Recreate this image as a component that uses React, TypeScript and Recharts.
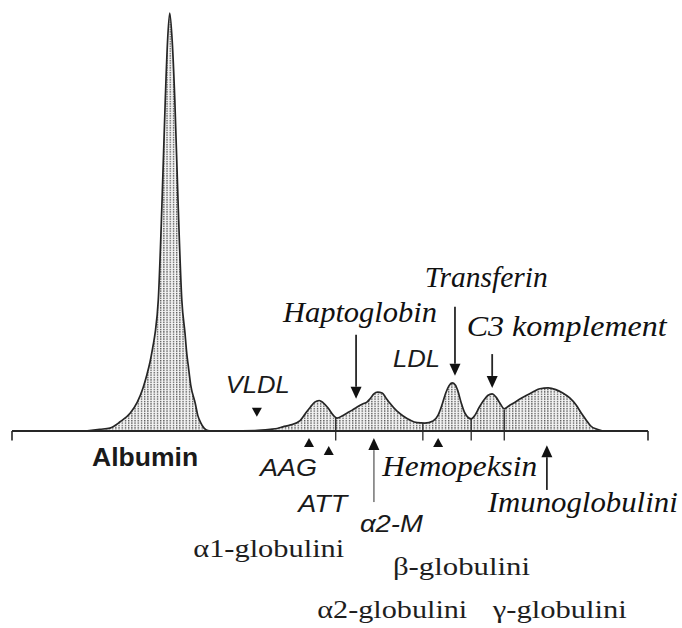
import React from "react";
import { ComposedChart, Area, XAxis, YAxis, ReferenceLine, ReferenceDot } from "recharts";

// densitogram: x = mobility (0..100 along the strip), y = relative density (albumin peak = 100)
const MOBILITY = [
  11.5, 13.8, 15.4, 17.0, 18.6, 19.7, 20.6, 21.2, 21.7, 22.2, 22.5, 23.0, 23.6, 24.1, 24.45, 24.8,
  25.2, 25.6, 26.1, 26.7, 27.2, 27.5, 27.7, 28.1, 28.8, 29.2, 29.7, 30.2, 30.8, 31.4, 34.3, 38.2,
  40.6, 41.7, 42.6, 43.7, 45.3, 46.1, 46.9, 47.6, 48.3, 48.9, 49.7, 50.5, 51.1, 51.9, 52.7, 53.5,
  54.2, 55.2, 55.8, 56.3, 56.9, 57.5, 58.2, 58.8, 59.4, 60.5, 61.5, 62.6, 63.7, 64.9, 66.2, 67.0,
  67.6, 68.2, 68.7, 69.2, 69.7, 70.1, 70.6, 71.2, 72.2, 72.8, 73.4, 74.2, 74.8, 75.5, 76.1, 76.7,
  77.4, 78.1, 79.1, 80.0, 81.0, 82.1, 83.0, 84.3, 85.5, 86.6, 87.7, 88.7, 89.5, 90.3, 91.0, 92.0,
  92.9
];
const DENSITY = [
  0, 0.4, 0.7, 2.2, 4.3, 6.9, 10.3, 13.4, 16.5, 20.6, 23.4, 31.3, 55.3, 79.2, 93, 100,
  93, 79.2, 55.3, 31.3, 23.4, 18.2, 15.8, 11.0, 6.7, 3.8, 1.9, 0.7, 0.1, 0, 0, 0.1,
  0.4, 0.6, 1.0, 1.4, 2.5, 4.1, 5.7, 6.9, 7.3, 6.8, 5.5, 3.8, 3.1, 3.6, 4.3, 5.0,
  5.7, 6.5, 6.9, 7.7, 8.9, 9.3, 9.1, 7.9, 6.7, 4.8, 3.6, 2.6, 2.0, 1.9, 2.4, 3.8,
  6.2, 9.1, 10.8, 11.5, 11.0, 9.6, 6.9, 4.3, 2.9, 3.8, 5.5, 7.4, 8.5, 8.9, 8.1, 6.7,
  5.3, 6.0, 6.9, 7.8, 8.6, 9.5, 10.1, 10.3, 9.9, 9.1, 7.9, 6.2, 4.3, 2.6, 1.2, 0.4,
  0
];

// vertical separators between fractions (x) and where they meet the curve (y)
const BOUNDARY_X = [50.9, 64.6, 72.2, 77.4];
const BOUNDARY_TOP = [3.1, 1.9, 2.9, 5.0];
const TICK_BOTTOM = -2.3;

type Kind = "serif" | "serifItalic" | "sansItalic" | "sansBold";
type Label = { text: string; x: number; y: number; kind: Kind };

const LABELS: Label[] = [
  { text: "Albumin", x: 12.6, y: -8.4, kind: "sansBold" },
  { text: "VLDL", x: 33.6, y: 9.1, kind: "sansItalic" },
  { text: "LDL", x: 59.9, y: 15.3, kind: "sansItalic" },
  { text: "AAG", x: 39.0, y: -10.8, kind: "sansItalic" },
  { text: "ATT", x: 45.0, y: -19.4, kind: "sansItalic" },
  { text: "\u03b12-M", x: 54.7, y: -24.2, kind: "sansItalic" },
  { text: "Haptoglobin", x: 42.6, y: 26.1, kind: "serifItalic" },
  { text: "Transferin", x: 64.9, y: 34.4, kind: "serifItalic" },
  { text: "C3 komplement", x: 71.5, y: 22.7, kind: "serifItalic" },
  { text: "Hemopeksin", x: 58.2, y: -10.8, kind: "serifItalic" },
  { text: "Imunoglobulini", x: 74.8, y: -19.4, kind: "serifItalic" },
  { text: "\u03b11-globulini", x: 28.5, y: -30.1, kind: "serif" },
  { text: "\u03b2-globulini", x: 59.9, y: -34.4, kind: "serif" },
  { text: "\u03b12-globulini", x: 48.0, y: -44.7, kind: "serif" },
  { text: "\u03b3-globulini", x: 75.6, y: -44.7, kind: "serif" }
];

// arrows: x, tail y, tip y
const ARROWS = [
  { name: "Haptoglobin", x: 54.1, from: 23.0, to: 7.7, grey: false },
  { name: "Transferin", x: 69.65, from: 29.7, to: 13.2, grey: false },
  { name: "C3", x: 75.5, from: 18.4, to: 10.3, grey: false },
  { name: "a2M", x: 56.9, from: -17.0, to: -1.7, grey: true },
  { name: "Ig", x: 84.1, from: -14.1, to: -3.4, grey: false }
];

// small triangles: x, tip y
const MARKERS = [
  { name: "VLDL", x: 38.5, tip: 3.4, down: true },
  { name: "AAG", x: 46.7, tip: -1.7, down: false },
  { name: "ATT", x: 49.8, tip: -3.6, down: false },
  { name: "Hemopeksin", x: 67.0, tip: -1.7, down: false }
];

const data = MOBILITY.map((x, i) => ({ x, y: DENSITY[i] }));

const SERIF = "Liberation Serif";
const SANS = "Liberation Sans";
type FontSpec = { family: string; size: number; italic?: boolean; bold?: boolean; fill: string };
const FONT: Record<Kind, FontSpec> = {
  serif: { family: SERIF, size: 26, fill: "#1e1e1e" },
  serifItalic: { family: SERIF, size: 29, italic: true, fill: "#111" },
  sansItalic: { family: SANS, size: 24, italic: true, fill: "#1a1a1a" },
  sansBold: { family: SANS, size: 26, bold: true, fill: "#1a1a1a" }
};
const LABEL_WIDTH: Record<string, number> = {
  Albumin: 106,
  VLDL: 64,
  LDL: 47,
  AAG: 57,
  ATT: 49,
  "\u03b12-M": 63,
  Haptoglobin: 154,
  Transferin: 123,
  "C3 komplement": 200,
  Hemopeksin: 155,
  Imunoglobulini: 190,
  "\u03b11-globulini": 151,
  "\u03b2-globulini": 137,
  "\u03b12-globulini": 150,
  "\u03b3-globulini": 134
};

const INK = "#262626";

function arrowShape(grey: boolean) {
  return (p: any) => {
    const { x1, y1, x2, y2 } = p;
    const dir = y2 > y1 ? 1 : -1;
    const head = 12;
    return (
      <g>
        <line x1={x1} y1={y1} x2={x2} y2={y2 - dir * head} stroke={grey ? "#8a8a8a" : INK} strokeWidth={1.8} />
        <polygon points={`${x2},${y2} ${x2 - 5.5},${y2 - dir * head} ${x2 + 5.5},${y2 - dir * head}`} fill="#111" />
      </g>
    );
  };
}

function triangleShape(down: boolean) {
  return (p: any) => {
    const { cx, cy } = p;
    const d = down ? -1 : 1;
    return <polygon points={`${cx},${cy} ${cx - 5},${cy + d * 9} ${cx + 5},${cy + d * 9}`} fill="#111" />;
  };
}

function labelShape(l: Label) {
  const f = FONT[l.kind];
  return (p: any) => (
    <text
      x={p.cx}
      y={p.cy}
      fontFamily={f.family}
      fontSize={f.size}
      fontStyle={f.italic ? "italic" : "normal"}
      fontWeight={f.bold ? 700 : 400}
      fill={f.fill}
      textLength={LABEL_WIDTH[l.text]}
      lengthAdjust="spacingAndGlyphs"
    >
      {l.text}
    </text>
  );
}

export default function App() {
  return (
    <div style={{ position: "absolute", left: 0, top: 0, width: 682, height: 628, background: "#fff" }}>
      <ComposedChart width={682} height={628} data={data} margin={{ top: 13, right: 34, bottom: 197, left: 12 }}>
        <defs>
          <pattern id="dots" width={3.2} height={2.4} patternUnits="userSpaceOnUse">
            <rect width={3.2} height={2.4} fill="#f2f2f2" />
            <rect x={0} y={0} width={1.3} height={1.4} fill="#555" />
          </pattern>
        </defs>
        <XAxis dataKey="x" type="number" domain={[0, 100]} hide />
        <YAxis type="number" domain={[0, 100]} hide />
        <Area
          type="monotone"
          dataKey="y"
          stroke={INK}
          strokeWidth={1.7}
          fill="url(#dots)"
          fillOpacity={1}
          isAnimationActive={false}
          dot={false}
          activeDot={false}
        />
        <ReferenceLine
          segment={[{ x: 0, y: 0 }, { x: 100, y: 0 }]}
          stroke={INK}
          strokeWidth={1.8}
          ifOverflow="visible"
        />
        {[0, 100].map((x) => (
          <ReferenceLine
            key={`end-${x}`}
            segment={[{ x, y: 0 }, { x, y: TICK_BOTTOM }]}
            stroke={INK}
            strokeWidth={1.6}
            ifOverflow="visible"
          />
        ))}
        {BOUNDARY_X.map((x, i) => (
          <ReferenceLine
            key={`b-${i}`}
            segment={[{ x, y: BOUNDARY_TOP[i] }, { x, y: TICK_BOTTOM }]}
            stroke={INK}
            strokeWidth={1.3}
            ifOverflow="visible"
          />
        ))}
        {ARROWS.map((a) => (
          <ReferenceLine
            key={`a-${a.name}`}
            segment={[{ x: a.x, y: a.from }, { x: a.x, y: a.to }]}
            ifOverflow="visible"
            shape={arrowShape(a.grey)}
          />
        ))}
        {MARKERS.map((m) => (
          <ReferenceDot
            key={`m-${m.name}`}
            x={m.x}
            y={m.tip}
            r={0}
            ifOverflow="visible"
            shape={triangleShape(m.down)}
          />
        ))}
        {LABELS.map((l) => (
          <ReferenceDot key={`l-${l.text}`} x={l.x} y={l.y} r={0} ifOverflow="visible" shape={labelShape(l)} />
        ))}
      </ComposedChart>
    </div>
  );
}
